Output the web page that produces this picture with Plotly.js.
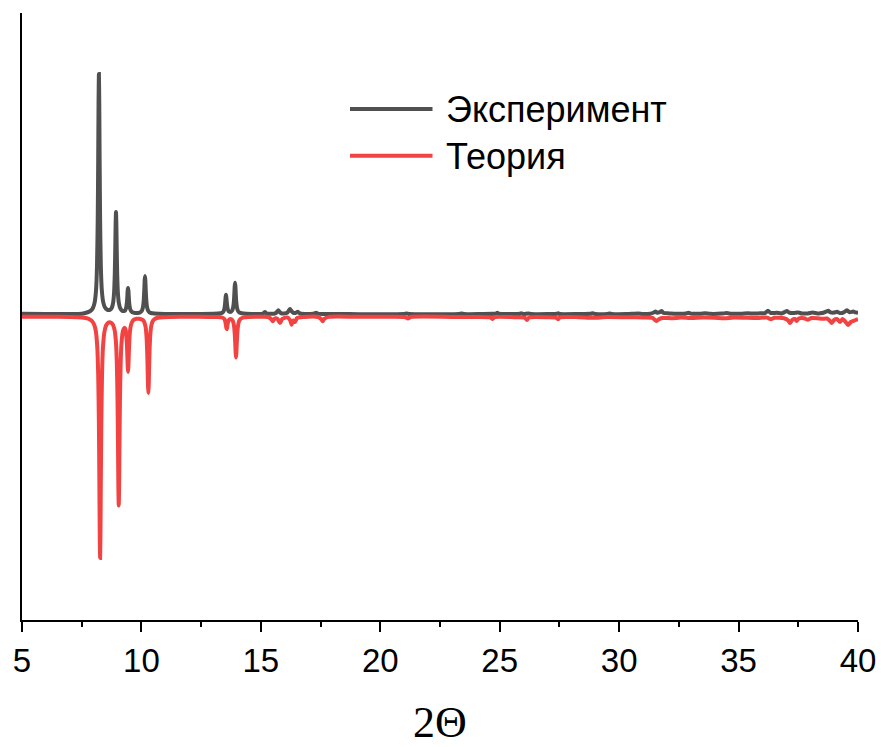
<!DOCTYPE html>
<html>
<head>
<meta charset="utf-8">
<script src="https://cdn.plot.ly/plotly-3.0.1.min.js"></script>
<style>
html,body{margin:0;padding:0;background:#fff;}
#chart{width:881px;height:747px;}
</style>
</head>
<body>
<div id="chart"></div>
<script>
// ---- data ----
const seriesNames = ["Эксперимент", "Теория"];

const expX = [5.0,6.0,7.0,7.5,7.72,7.87,7.97,8.04,8.10,8.14,8.17,8.19,8.205,8.22,8.235,8.25,8.27,8.30,8.34,8.40,8.47,8.57,8.63,8.685,8.755,8.815,8.855,8.885,8.905,8.92,8.935,8.95,8.965,8.985,9.015,9.055,9.115,9.185,9.26,9.32,9.36,9.39,9.41,9.425,9.44,9.455,9.47,9.49,9.52,9.56,9.62,9.74,9.90,9.97,10.03,10.07,10.10,10.12,10.135,10.15,10.165,10.18,10.20,10.23,10.27,10.33,10.40,10.55,11.0,12.0,13.0,13.2,13.3,13.38,13.44,13.48,13.51,13.525,13.54,13.555,13.57,13.60,13.64,13.70,13.74,13.80,13.84,13.87,13.89,13.905,13.92,13.935,13.95,13.97,14.00,14.04,14.10,14.20,14.40,15.0,15.08,15.13,15.17,15.21,15.27,15.45,15.60,15.67,15.73,15.79,15.86,15.98,16.10,16.16,16.22,16.28,16.36,16.45,16.50,16.54,16.59,16.68,17.0,17.2,17.26,17.31,17.36,17.45,18.0,18.7,19.5,20.4,21.0,21.1,21.2,22.3,23.3,23.4,23.5,24.2,24.85,24.9,24.95,25.6,25.85,25.9,26.0,26.2,26.3,27.0,27.4,27.45,27.5,28.3,28.8,28.9,29.0,29.5,29.6,29.7,30.3,30.8,31.0,31.3,31.45,31.52,31.6,31.7,31.78,31.86,32.1,32.4,32.8,32.9,33.0,33.4,33.6,33.8,34.3,34.5,34.7,35.1,35.4,35.6,35.9,36.1,36.23,36.35,36.6,36.8,36.95,37.02,37.12,37.3,37.5,37.65,37.9,38.1,38.3,38.5,38.68,38.75,38.85,39.0,39.12,39.25,39.4,39.53,39.65,39.8,39.9,40.0];
const expY = [2.3,2.1,2.0,2.3,3.5,5.1,8.0,13.3,26,50,96,156,212,242,212,156,96,50.4,26.4,13.9,8.8,6.3,6.0,6.3,8.1,13.2,23.3,42.6,68,92,104,92,68,42.5,23,13,7.6,5.4,4.9,5.7,8.2,13,19.5,25.7,28,25.5,19.3,12.5,7.8,5.3,3.8,3.1,3.3,4.0,5.9,9.7,16.8,26.3,35.3,40,35.3,26.3,16.8,9.6,5.8,3.8,3.0,2.5,2.1,2.0,2.2,2.4,2.7,3.3,4.8,8.1,14.4,18.9,21.3,18.9,14.5,8.3,5.2,4.1,4.2,5.5,8.5,14.4,22.1,29.5,33.3,29.5,22,14.3,8.3,5.1,3.5,2.7,2.3,2.1,2.5,3.2,4.0,3.2,2.4,2.2,2.6,4.0,5.7,4.0,2.6,2.5,3.2,5.0,7.0,4.8,3.2,3.0,3.8,4.2,3.3,2.3,2.1,2.2,2.8,3.3,2.8,2.1,2.0,1.9,1.8,1.8,2.0,2.6,1.9,1.8,2.0,2.6,1.9,2.0,2.5,3.3,2.4,2.1,2.2,2.8,2.0,2.6,2.0,1.9,2.2,2.8,2.0,2.0,2.2,2.8,2.1,2.0,2.5,2.0,1.9,2.4,2.0,2.3,3.5,4.5,3.2,3.8,5.0,3.0,2.6,2.2,2.5,3.3,2.4,2.3,2.8,2.2,2.4,2.9,2.2,2.3,2.8,2.4,2.7,2.8,5.2,3.0,3.2,2.6,4.2,5.0,3.4,3.0,3.5,2.5,2.6,3.5,2.6,3.0,4.6,5.2,3.6,3.4,4.2,2.9,3.6,5.8,3.8,4.4,3.6,3.3];

const theoX = [5.0,6.0,7.0,7.5,7.77,7.92,8.02,8.09,8.15,8.19,8.22,8.24,8.255,8.27,8.285,8.30,8.32,8.35,8.39,8.45,8.52,8.62,8.70,8.80,8.87,8.93,8.97,9.00,9.02,9.035,9.05,9.065,9.08,9.10,9.13,9.17,9.23,9.28,9.32,9.36,9.39,9.41,9.425,9.44,9.455,9.47,9.49,9.52,9.56,9.62,9.70,9.80,9.90,10.0,10.06,10.11,10.17,10.21,10.24,10.26,10.275,10.29,10.305,10.32,10.34,10.37,10.41,10.47,10.54,10.64,10.79,11.2,12.0,12.8,13.2,13.35,13.45,13.49,13.52,13.54,13.555,13.57,13.585,13.60,13.62,13.65,13.69,13.75,13.80,13.84,13.88,13.91,13.93,13.945,13.96,13.975,13.99,14.01,14.04,14.08,14.14,14.21,14.31,14.46,15.0,15.3,15.42,15.50,15.58,15.70,15.80,15.90,16.1,16.22,16.29,16.36,16.43,16.52,16.8,17.4,17.52,17.59,17.66,17.85,19.0,20.5,21.05,21.16,21.27,23.0,24.0,24.62,24.7,24.78,25.6,26.05,26.14,26.23,27.0,27.36,27.44,27.52,28.3,28.9,29.5,30.3,31.0,31.4,31.5,31.57,31.65,31.8,32.2,32.6,33.0,33.5,34.0,34.4,34.8,35.3,35.8,36.2,36.35,36.5,36.9,37.08,37.15,37.25,37.36,37.43,37.52,37.75,37.9,38.05,38.3,38.5,38.7,38.83,38.9,39.0,39.12,39.25,39.35,39.5,39.58,39.7,39.85,40.0];
const theoY = [-0.7,-0.8,-1.0,-1.5,-2.6,-4.9,-8.5,-15.2,-30.6,-58.8,-108.7,-167.3,-217.9,-242,-218,-167.5,-109.1,-59.3,-31.2,-16,-9.5,-6.6,-6.4,-8.3,-13.2,-24.9,-46.8,-85.7,-131.4,-170.9,-189.5,-171.6,-132.2,-86.3,-47.4,-25.8,-14.6,-11.9,-12.6,-17.5,-27.5,-40,-50.8,-55.9,-50.1,-39.1,-26.3,-15.4,-9.2,-5.5,-3.5,-2.8,-2.7,-3.3,-4.1,-5.7,-10.4,-19.3,-35.1,-53.5,-69.5,-77,-69.4,-53.3,-34.9,-19,-10.1,-5.3,-3.3,-2.0,-1.4,-1.0,-0.8,-0.9,-1.0,-1.4,-2.5,-3.9,-6.5,-9.4,-11.9,-13.2,-12.0,-9.6,-6.8,-4.4,-3.3,-3.2,-4.1,-5.9,-10.6,-18.9,-28.6,-37,-41.5,-37,-28.5,-18.8,-10.4,-5.6,-3.1,-2.0,-1.4,-1.0,-0.8,-1.0,-2.8,-5.3,-2.5,-3.0,-7.0,-2.8,-1.4,-4.0,-8.7,-4.5,-6.0,-2.0,-1.0,-1.0,-3.0,-5.3,-2.8,-0.9,-0.8,-0.8,-1.2,-2.5,-1.0,-0.9,-1.0,-1.5,-3.0,-1.2,-1.2,-1.6,-4.0,-1.5,-1.2,-1.6,-3.2,-1.3,-1.2,-1.8,-1.0,-1.2,-1.4,-1.8,-4.0,-5.0,-3.5,-2.0,-2.2,-1.6,-2.0,-1.5,-1.7,-2.3,-1.5,-1.8,-2.0,-1.6,-3.2,-1.8,-2.2,-4.5,-7.0,-3.8,-3.0,-5.0,-2.5,-2.3,-3.8,-2.0,-2.2,-2.8,-2.5,-5.0,-7.0,-4.0,-3.0,-6.0,-3.0,-6.5,-9.0,-6.0,-4.5,-3.0];

const xRange = [5, 40];
const yRange = [-304, 303];
const xTickStart = 5;
const xTickStep = 5;
const xMinorStep = 2.5;
const axisTitle = "2Θ";

const colors = ["#505050", "#f24242"];

// ---- chart ----
const traces = [
  {x: expX, y: expY, name: seriesNames[0], type: "scatter", mode: "lines",
   line: {color: colors[0], width: 4, shape: "spline", smoothing: 0.6}},
  {x: theoX, y: theoY, name: seriesNames[1], type: "scatter", mode: "lines",
   line: {color: colors[1], width: 4, shape: "spline", smoothing: 0.6}}
];

// custom legend (long line samples like the reference)
const W = 836, H = 607, L = 22, T = 13;
const px = v => (v - L) / W;
const py = v => (T + H - v) / H;
const legendRows = [109, 155.7];

const shapes = legendRows.map((yy, i) => ({
  type: "line", xref: "paper", yref: "paper",
  x0: px(350), x1: px(432.5), y0: py(yy), y1: py(yy),
  line: {color: colors[i], width: 4}
}));
const annotations = legendRows.map((yy, i) => ({
  xref: "paper", yref: "paper", x: px(444), y: py(yy + 0.5),
  xanchor: "left", yanchor: "middle", showarrow: false,
  text: seriesNames[i],
  font: {family: "Liberation Sans, Arial, sans-serif", size: 36, color: "#000"}
}));

const layout = {
  width: 881, height: 747,
  margin: {l: L, r: 23, t: T, b: 127, pad: 0},
  paper_bgcolor: "#fff", plot_bgcolor: "#fff",
  showlegend: false,
  font: {family: "Liberation Sans, Arial, sans-serif", color: "#000"},
  xaxis: {
    range: xRange, tickmode: "linear", tick0: xTickStart, dtick: xTickStep,
    showgrid: false, zeroline: false,
    showline: true, linecolor: "#000", linewidth: 2,
    ticks: "outside", ticklen: 10, tickwidth: 2, tickcolor: "#000",
    minor: {dtick: xMinorStep, tick0: xTickStart, ticks: "outside", ticklen: 5, tickwidth: 2, tickcolor: "#000", showgrid: false},
    tickfont: {size: 33, family: "Liberation Sans, Arial, sans-serif", color: "#000"},
    automargin: false,
    title: {text: axisTitle, standoff: 30,
            font: {family: "Liberation Serif, Times New Roman, serif", size: 44, color: "#000"}}
  },
  yaxis: {
    range: yRange, showgrid: false, zeroline: false,
    showline: true, linecolor: "#000", linewidth: 2,
    ticks: "", showticklabels: false, automargin: false
  },
  shapes: shapes,
  annotations: annotations
};

Plotly.newPlot("chart", traces, layout, {displayModeBar: false, staticPlot: true});
</script>
</body>
</html>
